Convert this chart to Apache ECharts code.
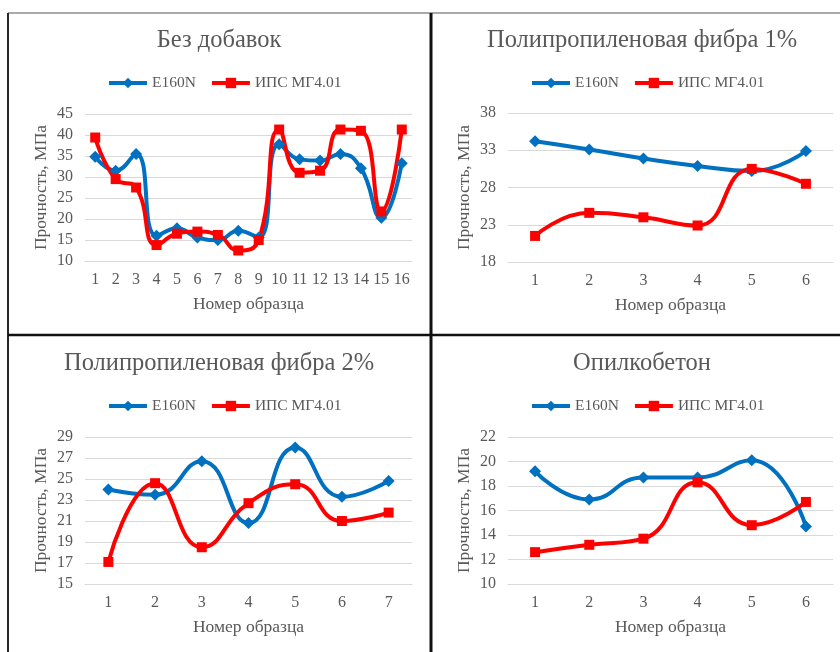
<!DOCTYPE html>
<html>
<head>
<meta charset="utf-8">
<script src="https://cdn.jsdelivr.net/npm/echarts@6/dist/echarts.min.js"></script>
<style>
  html, body { margin: 0; padding: 0; background: #ffffff; }
  #chart { width: 840px; height: 652px; }
</style>
</head>
<body>
<div id="chart"></div>
<script>
// Без добавок
var cats1 = ['1', '2', '3', '4', '5', '6', '7', '8', '9', '10', '11', '12', '13', '14', '15', '16']
var e160n1 = [34.8, 31.5, 35.5, 16.0, 17.8, 15.6, 15.0, 17.2, 15.6, 37.8, 34.2, 33.9, 35.5, 32.1, 20.3, 33.3]
var ips1 = [39.4, 29.5, 27.5, 13.8, 16.5, 17.0, 16.2, 12.5, 15.0, 41.3, 31.0, 31.5, 41.3, 41.0, 21.8, 41.3]

// Полипропиленовая фибра 1%
var cats2 = ['1', '2', '3', '4', '5', '6']
var e160n2 = [34.2, 33.1, 31.9, 30.9, 30.2, 32.9]
var ips2 = [21.5, 24.6, 24.0, 22.9, 30.5, 28.5]

// Полипропиленовая фибра 2%
var cats3 = ['1', '2', '3', '4', '5', '6', '7']
var e160n3 = [24.0, 23.5, 26.7, 20.8, 28.0, 23.3, 24.8]
var ips3 = [17.1, 24.6, 18.5, 22.7, 24.5, 21.0, 21.8]

// Опилкобетон
var cats4 = ['1', '2', '3', '4', '5', '6']
var e160n4 = [19.2, 16.9, 18.7, 18.7, 20.1, 14.7]
var ips4 = [12.6, 13.2, 13.7, 18.3, 14.8, 16.7]

var titles = ['Без добавок', 'Полипропиленовая фибра 1%', 'Полипропиленовая фибра 2%', 'Опилкобетон']
var yMin = [10, 18, 15, 10]
var yMax = [45, 38, 29, 22]
var yStep = [5, 5, 2, 2]

var font = "'Liberation Serif', 'Times New Roman', serif"
var textColor = '#595959'
var blue = '#0070C0'
var red = '#FF0000'

var grids = [
  { left: 85, top: 114, width: 327, height: 147 },
  { left: 508, top: 113, width: 325, height: 149 },
  { left: 85, top: 437, width: 327, height: 147 },
  { left: 508, top: 437, width: 325, height: 147 }
]
var titlePos = [[219, 28], [642, 28], [219, 351], [642, 351]]
var legendPos = [[107, 75], [530, 75], [107, 398], [530, 398]]
var catsAll = [cats1, cats2, cats3, cats4]
var blueAll = [e160n1, e160n2, e160n3, e160n4]
var redAll = [ips1, ips2, ips3, ips4]

var myChart = echarts.init(document.getElementById('chart'))

var title = []
var legend = []
var xAxis = []
var yAxis = []
var series = []
for (var i = 0; i < 4; i++) {
  title.push({
    text: titles[i],
    left: titlePos[i][0],
    top: titlePos[i][1],
    textAlign: 'center',
    padding: 0,
    textStyle: { fontFamily: font, fontSize: 24.5, fontWeight: 'normal', color: textColor }
  })
  legend.push({
    left: legendPos[i][0],
    top: legendPos[i][1],
    padding: 0,
    itemWidth: 38,
    itemHeight: 13,
    itemGap: 14,
    lineStyle: { width: 4 },
    data: ['E160N', 'ИПС МГ4.01'],
    textStyle: { fontFamily: font, fontSize: 15.5, color: textColor }
  })
  xAxis.push({
    type: 'category',
    gridIndex: i,
    data: catsAll[i],
    boundaryGap: true,
    name: 'Номер образца',
    nameLocation: 'middle',
    nameGap: 34,
    nameTextStyle: { fontFamily: font, fontSize: 17.5, color: textColor },
    axisLine: { lineStyle: { color: '#D9D9D9', width: 1 } },
    axisTick: { show: false },
    axisLabel: { interval: 0, hideOverlap: false, fontFamily: font, fontSize: 16, color: textColor, margin: 11 }
  })
  yAxis.push({
    type: 'value',
    gridIndex: i,
    min: yMin[i],
    max: yMax[i],
    interval: yStep[i],
    name: 'Прочность, МПа',
    nameLocation: 'middle',
    nameGap: 35,
    nameTextStyle: { fontFamily: font, fontSize: 17.5, color: textColor },
    axisLine: { show: false },
    axisTick: { show: false },
    axisLabel: { fontFamily: font, fontSize: 16, color: textColor, margin: 12 },
    splitLine: { lineStyle: { color: '#D9D9D9', width: 1 } }
  })
  series.push({
    name: 'E160N',
    type: 'line',
    xAxisIndex: i,
    yAxisIndex: i,
    data: blueAll[i],
    smooth: true,
    symbol: 'diamond',
    symbolSize: 12,
    itemStyle: { color: blue },
    lineStyle: { color: blue, width: 4 }
  })
  series.push({
    name: 'ИПС МГ4.01',
    type: 'line',
    xAxisIndex: i,
    yAxisIndex: i,
    data: redAll[i],
    smooth: true,
    symbol: 'rect',
    symbolSize: 10,
    itemStyle: { color: red },
    lineStyle: { color: red, width: 4 }
  })
}

var option = {
  backgroundColor: '#ffffff',
  animation: false,
  title: title,
  legend: legend,
  grid: grids,
  xAxis: xAxis,
  yAxis: yAxis,
  series: series,
  // рамки панелей
  graphic: [
    { type: 'line', shape: { x1: 8, y1: 13, x2: 840, y2: 13 }, style: { stroke: '#8C8C8C', lineWidth: 1.5 } },
    { type: 'line', shape: { x1: 8, y1: 13, x2: 8, y2: 652 }, style: { stroke: '#262626', lineWidth: 2 } },
    { type: 'line', shape: { x1: 431, y1: 13, x2: 431, y2: 652 }, style: { stroke: '#111111', lineWidth: 3 } },
    { type: 'line', shape: { x1: 8, y1: 335, x2: 840, y2: 335 }, style: { stroke: '#111111', lineWidth: 2.5 } }
  ]
}
myChart.setOption(option, true)
</script>
</body>
</html>
